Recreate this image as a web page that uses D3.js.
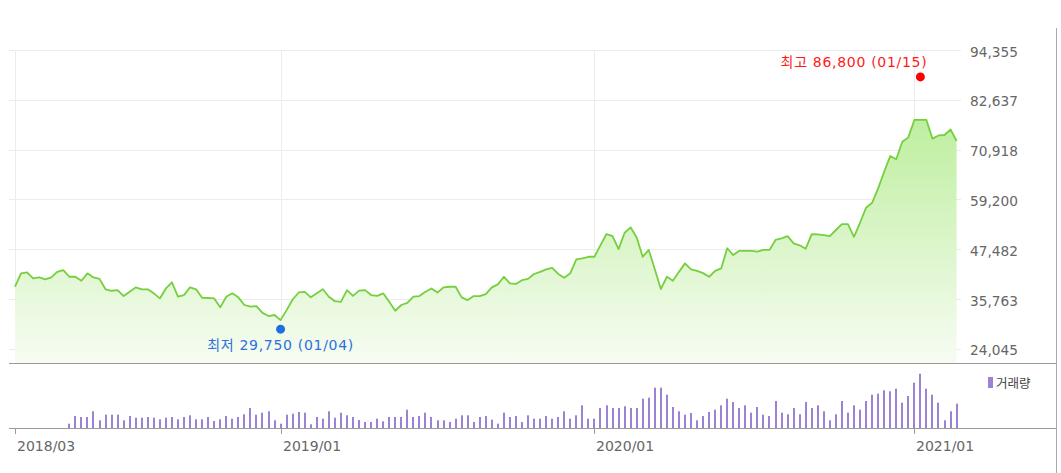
<!DOCTYPE html>
<html>
<head>
<meta charset="utf-8">
<script src="https://cdn.jsdelivr.net/npm/d3@7/dist/d3.min.js"></script>
<style>
  html, body { margin: 0; padding: 0; background: #fff; }
  svg { display: block; }
</style>
</head>
<body>
<svg id="chart" width="1061" height="473"></svg>
<script>
// ---------- DATA ----------
// weekly closes (one per Friday), first week 2018-03-02
const firstWeek = "2018-03-02";
const closes = [
  38650, 41800, 42050, 40600, 40850, 40400, 40850, 42150, 42550, 41000,
  41000, 40050, 41800, 40850, 40500, 38050, 37700, 37850, 36450, 37450,
  38500, 38050, 38050, 37100, 35900, 38250, 39700, 36300, 36700, 38500,
  38050, 36050, 36000, 35900, 33800, 36300, 37100, 36150, 34350, 33950,
  34100, 32500, 31750, 32000, 30800, 33150, 35650, 37300, 37450, 36150,
  37100, 38050, 36300, 35250, 35100, 37850, 36500, 37750, 37850, 36700,
  36500, 37100, 35100, 33000, 34350, 34850, 36300, 36450, 37450, 38250,
  37300, 38500, 38650, 38650, 36150, 35500, 36450, 36450, 36900, 38500,
  39200, 41000, 39450, 39300, 40200, 40500, 41650, 42150, 42750, 43100,
  41650, 40750, 41800, 45100, 45300, 45700, 45700, 48450, 51050, 50550,
  47500, 51350, 52600, 50250, 45700, 47300, 42750, 38100, 41000, 40050,
  42150, 44150, 42750, 42400, 41850, 41000, 42400, 42950, 47700, 46100,
  47100, 47100, 47100, 46900, 47300, 47300, 49650, 50050, 50550, 48850,
  48400, 47600, 51050, 50950, 50800, 50550, 52000, 53400, 53400, 50400,
  53700, 57250, 58400, 61800, 65700, 69400, 68650, 72750, 73800, 77900,
  77900, 77900, 73500, 74250, 74350, 75650, 72950
];
// weekly volume (relative units), no data for the first weeks
const volumes = [
  null, null, null, null, null, null, null, null, null, 430,
  1200, 1100, 1100, 1670, 770, 1330, 1330, 1330, 770, 1200,
  1030, 1030, 1100, 1030, 870, 1030, 1100, 870, 1100, 1270,
  870, 870, 1100, 700, 870, 1200, 930, 1100, 1370, 2000,
  1330, 1530, 1670, 770, 430, 1330, 1430, 1600, 1530, 370,
  1100, 930, 1670, 1030, 1530, 1270, 1100, 800, 600, 600,
  930, 670, 1100, 1100, 1100, 1830, 1100, 1200, 1530, 1100,
  770, 770, 600, 930, 1270, 1270, 600, 1100, 1200, 830,
  430, 1530, 1100, 1200, 600, 1270, 930, 930, 1200, 930,
  1100, 1670, 930, 1270, 2270, 930, 930, 2000, 2270, 2000,
  2000, 2170, 2000, 2000, 2930, 3030, 4030, 4030, 3330, 2100,
  1670, 1330, 1500, 770, 1200, 1600, 1830, 2270, 2930, 2600,
  2000, 2270, 1530, 2100, 1330, 1200, 2700, 1530, 1370, 2000,
  1370, 2600, 2000, 2270, 1670, 770, 1370, 2700, 1530, 2270,
  1830, 2700, 3330, 3430, 3770, 3670, 3930, 2530, 3200, 4530,
  5430, 3930, 3330, 2530, 770, 1670, 2430
];
const yTicks = [24045, 35763, 47482, 59200, 70918, 82637, 94355];
const xTickDates = ["2018-03-02", "2019-01-04", "2020-01-03", "2021-01-08"];
const xTickLabels = ["2018/03", "2019/01", "2020/01", "2021/01"];
const lowPoint  = { date: "2019-01-04", value: 29750, label: "최저 29,750 (01/04)" };
const highPoint = { date: "2021-01-15", value: 86800, label: "최고 86,800 (01/15)" };
const legendLabel = "거래량";

// ---------- SETUP ----------
const parse = d3.timeParse("%Y-%m-%d");
const fmt = d3.timeFormat("%Y-%m-%d");
const start = parse(firstWeek);
const dates = closes.map((_, i) => fmt(d3.timeDay.offset(start, 7 * i)));
const data = dates.map((d, i) => ({ date: d, close: closes[i], vol: volumes[i] }));

const svg = d3.select("#chart");
const plotLeft = 15, plotRight = 956.6, gridRight = 961, frameLeft = 9, frameRight = 1056.5;
const mainTop = 50, mainBottom = 363, volBottom = 428, volTop = 363;

const x = d3.scalePoint().domain(dates).range([plotLeft, plotRight]);
const y = d3.scaleLinear().domain([24045, 94355]).range([348.8, 50]);
const yv = d3.scaleLinear().domain([0, 6500]).range([volBottom, volTop]);

const crisp = v => Math.round(v) + 0.5;

// gradient
const defs = svg.append("defs");
const grad = defs.append("linearGradient").attr("id", "areaGrad")
  .attr("gradientUnits", "userSpaceOnUse")
  .attr("x1", 0).attr("x2", 0).attr("y1", 110).attr("y2", mainBottom);
grad.append("stop").attr("offset", 0).attr("stop-color", "#bcee9c");
grad.append("stop").attr("offset", 1).attr("stop-color", "#f7fcf3");

// horizontal gridlines
svg.append("g").selectAll("line").data(yTicks).join("line")
  .attr("x1", frameLeft).attr("x2", gridRight)
  .attr("y1", d => crisp(y(d))).attr("y2", d => crisp(y(d)))
  .attr("stroke", "#ececec").attr("stroke-width", 1);

// vertical gridlines
svg.append("g").selectAll("line").data(xTickDates).join("line")
  .attr("x1", d => crisp(x(d))).attr("x2", d => crisp(x(d)))
  .attr("y1", mainTop).attr("y2", mainBottom)
  .attr("stroke", "#ececec").attr("stroke-width", 1);

// area + line
const area = d3.area().x(d => x(d.date)).y0(mainBottom).y1(d => y(d.close));
const line = d3.line().x(d => x(d.date)).y(d => y(d.close));
svg.append("path").datum(data).attr("d", area).attr("fill", "url(#areaGrad)");
svg.append("path").datum(data).attr("d", line)
  .attr("fill", "none").attr("stroke", "#76cf3e").attr("stroke-width", 1.8)
  .attr("stroke-linejoin", "round");

// volume bars
svg.append("g").selectAll("rect").data(data.filter(d => d.vol != null)).join("rect")
  .attr("x", d => Math.round(x(d.date)) - 1)
  .attr("width", 2)
  .attr("y", d => yv(d.vol))
  .attr("height", d => volBottom - yv(d.vol))
  .attr("fill", "#9b82d2");

// frame lines
svg.append("line").attr("x1", frameLeft).attr("x2", frameRight)
  .attr("y1", mainBottom + 0.5).attr("y2", mainBottom + 0.5)
  .attr("stroke", "#9a9a9a");
svg.append("line").attr("x1", frameLeft).attr("x2", frameRight)
  .attr("y1", volBottom + 0.5).attr("y2", volBottom + 0.5)
  .attr("stroke", "#9a9a9a");
svg.append("line").attr("x1", frameRight).attr("x2", frameRight)
  .attr("y1", 28).attr("y2", 473).attr("stroke", "#aaaaaa");

// x ticks + labels
const xt = svg.append("g").selectAll("g").data(xTickDates).join("g")
  .attr("transform", d => `translate(${crisp(x(d))},0)`);
xt.append("line").attr("y1", volBottom).attr("y2", volBottom + 6).attr("stroke", "#9a9a9a");
xt.append("text").text((d, i) => xTickLabels[i])
  .attr("x", 1.5).attr("y", 451)
  .attr("font-family", "DejaVu Sans, sans-serif").attr("font-size", 14)
  .attr("fill", "#666");

// y labels
svg.append("g").selectAll("text").data(yTicks).join("text")
  .attr("x", 970).attr("y", d => y(d) + 1.5)
  .attr("dominant-baseline", "central")
  .attr("font-family", "DejaVu Sans, sans-serif").attr("font-size", 13.7)
  .attr("fill", "#666")
  .text(d => d3.format(",")(d));

// high / low markers
const annFont = "DejaVu Sans, 'Noto Sans CJK KR', sans-serif";
const lowY = y(lowPoint.value) + 4.6;
svg.append("circle").attr("cx", x(lowPoint.date)).attr("cy", lowY).attr("r", 4.5).attr("fill", "#1f6fe0");
svg.append("text").attr("x", x(lowPoint.date)).attr("y", lowY + 16)
  .attr("text-anchor", "middle").attr("dominant-baseline", "central")
  .attr("font-family", annFont).attr("font-size", 14).attr("letter-spacing", 0.7)
  .attr("fill", "#2a72dc")
  .text(lowPoint.label);

const highY = y(highPoint.value) - 5.2;
svg.append("circle").attr("cx", x(highPoint.date)).attr("cy", highY).attr("r", 4.5).attr("fill", "#ff0000");
svg.append("text").attr("x", x(highPoint.date) + 7).attr("y", highY - 15)
  .attr("text-anchor", "end").attr("dominant-baseline", "central")
  .attr("font-family", annFont).attr("font-size", 14).attr("letter-spacing", 0.7)
  .attr("fill", "#ff1a1a")
  .text(highPoint.label);

// legend
svg.append("rect").attr("x", 988).attr("y", 377).attr("width", 5).attr("height", 11).attr("fill", "#9b82d2");
svg.append("text").attr("x", 996).attr("y", 382.5)
  .attr("dominant-baseline", "central")
  .attr("font-family", "'Noto Sans CJK KR', sans-serif").attr("font-size", 12.5)
  .attr("fill", "#444").text(legendLabel);
</script>
</body>
</html>
